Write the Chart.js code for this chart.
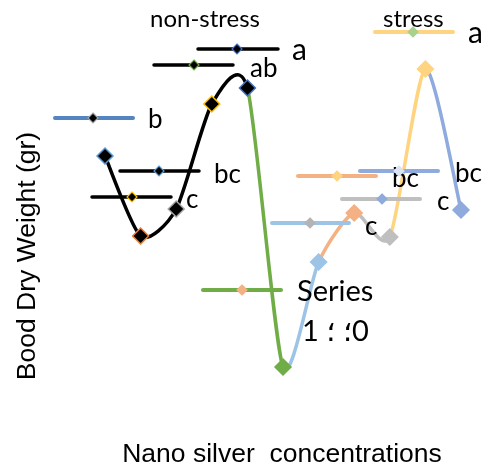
<!DOCTYPE html>
<html>
<head>
<meta charset="utf-8">
<script src="https://cdn.jsdelivr.net/npm/chart.js@4"></script>
<style>
  body { margin: 0; background: #fff; }
  canvas { display: block; }
</style>
</head>
<body>
<canvas id="chart" width="482" height="466"></canvas>
<script>
// concentrations (category index) and dry weight
const concentrations = [0, 1, 2, 3, 4, 5, 6, 7, 8, 9, 10];
const dryWeight = [3.10, 2.30, 2.57, 3.62, 3.78, 0.99, 2.04, 2.53, 2.29, 3.97, 2.56];

// colour of the segment leading into each point, and of each marker
const segmentColors = ['#000', '#000', '#000', '#000', '#000', '#70AD47', '#9DC3E6', '#F4B183', '#BFBFBF', '#FFD480', '#8FAADC'];
const markerFill = ['#000', '#000', '#000', '#000', '#000', '#70AD47', '#9DC3E6', '#F4B183', '#BFBFBF', '#FFD480', '#8FAADC'];
const markerEdge = ['#5B9BD5', '#ED7D31', '#A5A5A5', '#FFC000', '#4472C4', '#70AD47', '#9DC3E6', '#F4B183', '#BFBFBF', '#FFD480', '#8FAADC'];

const legendNames = ['a', 'ab', 'b', 'bc', 'c', 'a', 'bc', 'bc', 'c', 'c', 'Series'];

// scattered legend keys (pixel layout, like the original free-floating legend)
const legendLayout = [
  { line: '#000',    fill: '#000',    edge: '#4472C4', x1: 198, x2: 278, y: 49,  mx: 237, tx: 292, ty: 60,  size: 30 },
  { line: '#000',    fill: '#000',    edge: '#70AD47', x1: 154, x2: 233, y: 65,  mx: 194, tx: 250, ty: 77,  size: 26 },
  { line: '#5585C0', fill: '#000',    edge: '#A5A5A5', x1: 55,  x2: 133, y: 118, mx: 93,  tx: 148, ty: 128, size: 26 },
  { line: '#000',    fill: '#000',    edge: '#5B9BD5', x1: 120, x2: 199, y: 171, mx: 159, tx: 214, ty: 183, size: 26 },
  { line: '#000',    fill: '#000',    edge: '#FFC000', x1: 92,  x2: 171, y: 197, mx: 132, tx: 186, ty: 208, size: 26 },
  { line: '#FFD480', fill: '#A9D18E', edge: '#A9D18E', x1: 375, x2: 453, y: 32,  mx: 413, tx: 468, ty: 43,  size: 30 },
  { line: '#F4B183', fill: '#FFD480', edge: '#FFD480', x1: 298, x2: 376, y: 176, mx: 337, tx: 392, ty: 187, size: 26 },
  { line: '#8FAADC', fill: '#DAE3F3', edge: '#DAE3F3', x1: 360, x2: 438, y: 171, mx: 399, tx: 455, ty: 182, size: 26 },
  { line: '#BFBFBF', fill: '#8FAADC', edge: '#8FAADC', x1: 342, x2: 420, y: 199, mx: 382, tx: 437, ty: 210, size: 26 },
  { line: '#9DC3E6', fill: '#B4B4B4', edge: '#B4B4B4', x1: 272, x2: 349, y: 223, mx: 310, tx: 365, ty: 235, size: 26 },
  { line: '#70AD47', fill: '#F4B183', edge: '#F4B183', x1: 203, x2: 281, y: 290, mx: 242, tx: 297, ty: 301, size: 29 }
];

function diamond(ctx, x, y, r, fill, edge, lw) {
  ctx.beginPath();
  ctx.moveTo(x, y - r);
  ctx.lineTo(x + r, y);
  ctx.lineTo(x, y + r);
  ctx.lineTo(x - r, y);
  ctx.closePath();
  ctx.fillStyle = fill;
  ctx.fill();
  ctx.lineWidth = lw;
  ctx.strokeStyle = edge;
  ctx.stroke();
}

// Excel-style smoothing: uniform Catmull-Rom control points instead of the distance-weighted ones
const excelSmooth = {
  id: 'excelSmooth',
  beforeDatasetDraw(chart, args) {
    const line = args.meta.dataset;
    line.updateControlPoints(chart.chartArea, 'x');
    const pts = args.meta.data;
    const k = 0.12;
    pts.forEach((p, i) => {
      const prev = pts[Math.max(i - 1, 0)];
      const next = pts[Math.min(i + 1, pts.length - 1)];
      const dx = (next.x - prev.x) * k;
      const dy = (next.y - prev.y) * k;
      p.cp1x = p.x - dx; p.cp1y = p.y - dy;
      p.cp2x = p.x + dx; p.cp2y = p.y + dy;
    });
  }
};

const floatingLegend = {
  id: 'floatingLegend',
  afterDraw(chart) {
    const ctx = chart.ctx;
    ctx.save();
    legendLayout.forEach((k, i) => {
      ctx.beginPath();
      ctx.moveTo(k.x1, k.y);
      ctx.lineTo(k.x2, k.y);
      ctx.lineWidth = k.line === '#000' ? 3.5 : 4;
      ctx.lineCap = 'round';
      ctx.strokeStyle = k.line;
      ctx.stroke();
      diamond(ctx, k.mx, k.y, 5, k.fill, k.edge, 1.2);
      ctx.fillStyle = '#000';
      ctx.font = k.size + 'px Lato, "Noto Sans", sans-serif';
      ctx.textBaseline = 'alphabetic';
      ctx.textAlign = 'left';
      ctx.fillText(legendNames[i], k.tx, k.ty);
    });
    // second line of the last legend entry (kept left-to-right)
    ctx.font = '29px Lato, "DejaVu Sans", sans-serif';
    ctx.fillText('1 \u061B\u200E \u061B\u200E0', 302, 341);

    // group headings and axis titles
    ctx.font = '24px Lato, sans-serif';
    ctx.fillText('non-stress', 150, 27);
    ctx.fillText('stress', 383, 27);

    ctx.font = '26.5px "Liberation Sans", Arial, sans-serif';
    ctx.textAlign = 'center';
    ctx.fillText('Nano silver  concentrations', 282, 462);
    ctx.translate(35, 256);
    ctx.rotate(-Math.PI / 2);
    ctx.fillText('Bood Dry Weight (gr)', 0, 0);
    ctx.restore();
  }
};

new Chart(document.getElementById('chart'), {
  type: 'line',
  data: {
    datasets: [{
      data: concentrations.map((c, i) => ({ x: c, y: dryWeight[i] })),
      borderWidth: 3.5,
      tension: 0.4,
      clip: false,
      segment: { borderColor: ctx => segmentColors[ctx.p1DataIndex] },
      pointStyle: 'rectRot',
      pointRadius: 8,
      pointHoverRadius: 8,
      pointBackgroundColor: markerFill,
      pointBorderColor: markerEdge,
      pointBorderWidth: 1.5
    }]
  },
  options: {
    responsive: false,
    animation: false,
    layout: { padding: 0, autoPadding: false },
    plugins: { legend: { display: false }, tooltip: { enabled: false } },
    scales: {
      x: { type: 'linear', display: false, min: -2.95, max: 10.59 },
      y: { display: false, min: 0, max: 4.66 }
    }
  },
  plugins: [excelSmooth, floatingLegend]
});
</script>
</body>
</html>
